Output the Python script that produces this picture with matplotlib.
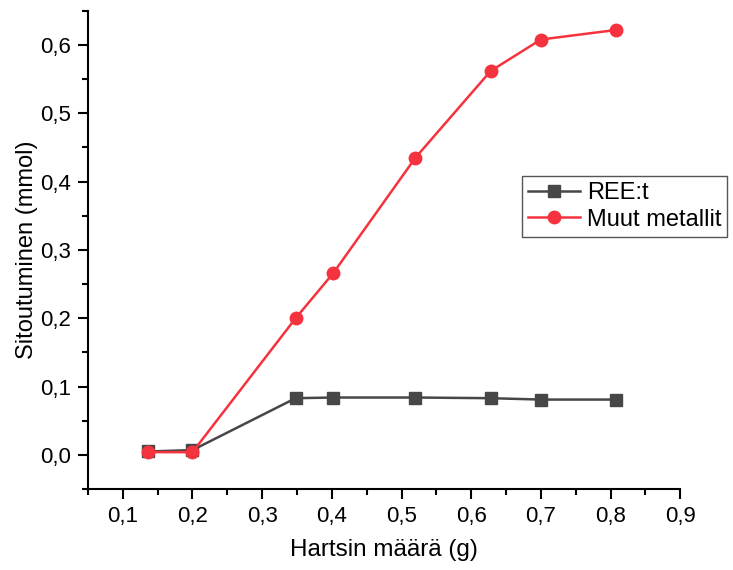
import matplotlib
matplotlib.use("Agg")
import matplotlib.pyplot as plt
from matplotlib.ticker import MultipleLocator, FuncFormatter

plt.rcParams['font.family'] = ['Liberation Sans', 'DejaVu Sans']

# data
x_ree = [0.136, 0.200, 0.348, 0.402, 0.520, 0.628, 0.700, 0.808]
y_ree = [0.005, 0.007, 0.083, 0.084, 0.084, 0.083, 0.081, 0.081]
x_muut = [0.136, 0.200, 0.348, 0.402, 0.520, 0.628, 0.700, 0.808]
y_muut = [0.004, 0.004, 0.200, 0.266, 0.435, 0.562, 0.608, 0.622]

fig = plt.figure(figsize=(7.33, 5.70), dpi=100)
ax = fig.add_axes([0.120, 0.142, 0.808, 0.839])

ax.plot(x_ree, y_ree, color='#474747', lw=1.8, marker='s', ms=8,
        label='REE:t')
ax.plot(x_muut, y_muut, color='#F5333F', lw=1.8, marker='o', ms=9,
        label='Muut metallit')

ax.set_xlim(0.05, 0.9)
ax.set_ylim(-0.05, 0.65)
ax.xaxis.set_major_locator(MultipleLocator(0.1))
ax.xaxis.set_minor_locator(MultipleLocator(0.05))
ax.yaxis.set_major_locator(MultipleLocator(0.1))
ax.yaxis.set_minor_locator(MultipleLocator(0.05))
comma = FuncFormatter(lambda v, p: f"{v:.1f}".replace('.', ','))
ax.xaxis.set_major_formatter(comma)
ax.yaxis.set_major_formatter(comma)

for s in ['top', 'right']:
    ax.spines[s].set_visible(False)
for s in ['left', 'bottom']:
    ax.spines[s].set_linewidth(1.5)
ax.tick_params(which='major', direction='out', length=7, width=1.5,
               labelsize=16, pad=5)
ax.tick_params(which='minor', direction='out', length=4, width=1.5)

ax.set_xlabel('Hartsin määrä (g)', fontsize=17.5)
ax.set_ylabel('Sitoutuminen (mmol)', fontsize=17)
ax.xaxis.set_label_coords(0.5, -0.105)
ax.yaxis.set_label_coords(-0.084, 0.5)

leg = ax.legend(loc='upper left', bbox_to_anchor=(0.712, 0.691),
                bbox_transform=fig.transFigure, fontsize=17,
                frameon=True, fancybox=False, edgecolor='#555555',
                framealpha=1, handlelength=2.2, borderpad=0.25,
                labelspacing=0.2, handletextpad=0.3, borderaxespad=0)
leg.get_frame().set_linewidth(1.0)

fig.savefig('out.png', dpi=100)
